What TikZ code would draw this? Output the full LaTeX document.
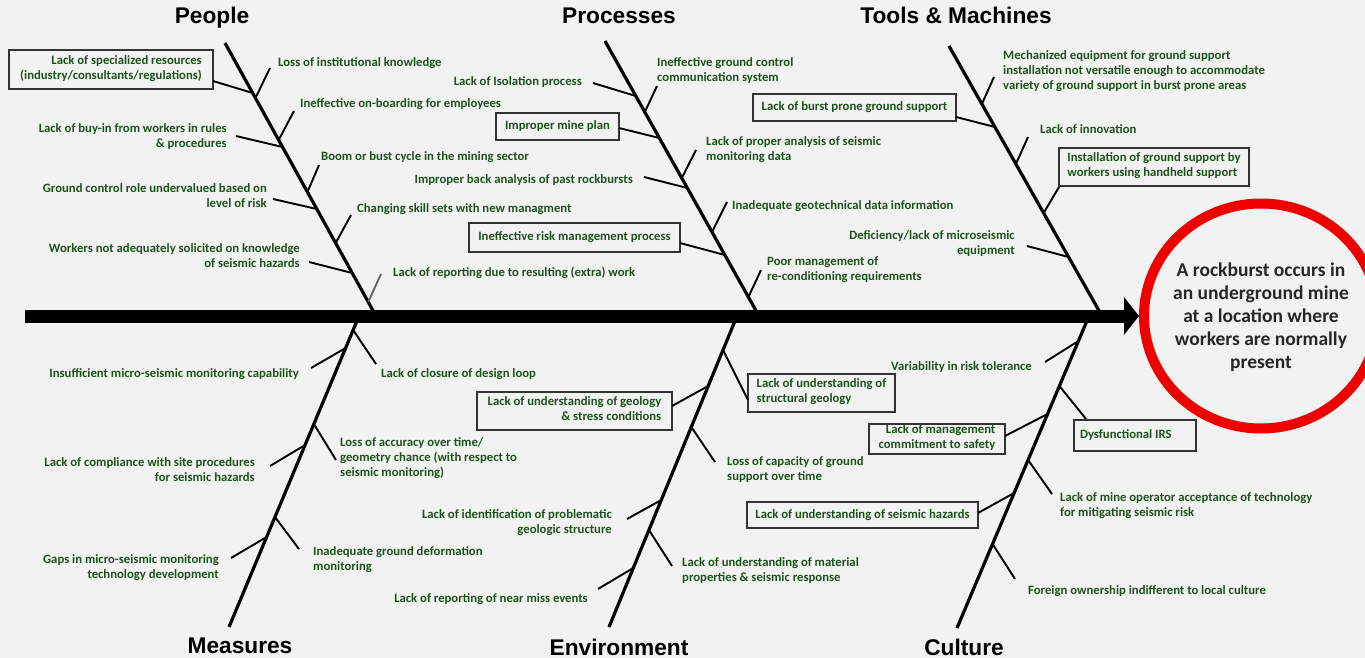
\documentclass[tikz,border=0pt]{standalone}
\usepackage{fontspec}
\setmainfont{Carlito}
\newfontfamily\titlefont{Liberation Sans}
\usetikzlibrary{arrows.meta,shapes.geometric,shadows}
\definecolor{bg}{HTML}{F2F2F2}
\definecolor{lbl}{RGB}{28,82,28}
\definecolor{ring}{RGB}{238,0,0}
\newcommand\lblfont{\bfseries\fontsize{12.7}{15}\selectfont}
\newcommand\mktwig[6][black]{%
  \coordinate (#2q) at (#3,#4);
  \coordinate (#2p) at (intersection of #5t--#5b and 0,#6--1,#6);
  \draw[twigline,draw=#1] (#2q) -- (#2p);}
\begin{document}
\begin{tikzpicture}[x=1pt,y=-1pt,
  lab/.style={inner sep=0pt, text=lbl, font=\lblfont, execute at begin node=\strut, execute at end node=\strut},
  labl/.style={lab, anchor=west, align=left, yshift=-1.5pt},
  labr/.style={lab, anchor=east, align=right, yshift=-1.5pt},
  lbox/.style={lab, align=center, draw=black!80, line width=1.2pt, fill=bg, drop shadow={shadow xshift=1.2pt, shadow yshift=-1.2pt, fill=black!35, opacity=0.6}},
  bone/.style={line width=3.2pt},
  twigline/.style={line width=1.9pt},
  title/.style={font=\titlefont\bfseries\fontsize{22.7}{26}\selectfont, anchor=base},
]
\useasboundingbox (0,0) rectangle (1365,658);
\fill[bg] (0,0) rectangle (1365,658);

% goal
\node[ellipse, draw=ring, line width=10pt, minimum width=234pt, minimum height=225pt, inner sep=0pt] (circ) at (1261,316) {};
\node[align=center, inner sep=0pt, font=\bfseries\fontsize{19.5}{23}\selectfont, text=black!85] (goal) at (1261,317) {A rockburst occurs in\\an underground mine\\at a location where\\workers are normally\\present};
\coordinate (spL) at (25,316);
\draw[line width=13pt, -{Triangle[length=15pt,width=37pt]}] (spL) -- (circ.west);

% People
\node[title] (tP) at (212,24) {People};
\coordinate (Pt) at (225,43); \coordinate (Pb) at (376,316);
\draw[bone] (Pt) -- (Pb);
\node[lbox, minimum width=204pt, minimum height=39pt, align=right] (P1) at (111,69.5) {Lack of specialized resources\\(industry/consultants/regulations)};
\mktwig{P1}{213}{81}{P}{93}
\node[labl] (P2) at (278,62) {Loss of institutional knowledge};
\mktwig{P2}{270}{68}{P}{98}
\node[labl] (P3) at (300,103) {Ineffective on-boarding for employees};
\mktwig{P3}{294}{111}{P}{140}
\node[labr] (P4) at (227,136.5) {Lack of buy-in from workers in rules\\\& procedures};
\mktwig{P4}{236}{136}{P}{147}
\node[labl] (P5) at (321,156) {Boom or bust cycle in the mining sector};
\mktwig{P5}{319}{165}{P}{192}
\node[labr] (P6) at (267,196.5) {Ground control role undervalued based on\\level of risk};
\mktwig{P6}{273}{199}{P}{209}
\node[labl] (P7) at (357,208) {Changing skill sets with new managment};
\mktwig{P7}{351}{215}{P}{243}
\node[labr] (P8) at (300,256.5) {Workers not adequately solicited on knowledge\\of seismic hazards};
\mktwig{P8}{309}{262}{P}{273}
\node[labl] (P9) at (393,272) {Lack of reporting due to resulting (extra) work};
\mktwig[black!60]{P9}{381}{274}{P}{302}

% Processes
\node[title] (tR) at (619,24) {Processes};
\coordinate (Rt) at (605,41); \coordinate (Rb) at (759,316);
\draw[bone] (Rt) -- (Rb);
\node[labr] (R1) at (582,81) {Lack of Isolation process};
\mktwig{R1}{593}{83}{R}{96}
\node[labl] (R2) at (657,70.5) {Ineffective ground control\\communication system};
\mktwig{R2}{657}{86}{R}{112}
\node[lbox, minimum width=123pt, minimum height=27pt] (R3) at (557.5,126.5) {Improper mine plan};
\mktwig{R3}{619}{128}{R}{138}
\node[labl] (R4) at (706,149.5) {Lack of proper analysis of seismic\\monitoring data};
\mktwig{R4}{696}{150}{R}{178}
\node[labr] (R5) at (633,179) {Improper back analysis of past rockbursts};
\mktwig{R5}{644}{177}{R}{188}
\node[labl] (R6) at (732,205) {Inadequate geotechnical data information};
\mktwig{R6}{727}{202}{R}{232}
\node[lbox, minimum width=211pt, minimum height=29pt] (R7) at (574.5,237.5) {Ineffective risk management process};
\mktwig{R7}{680}{243}{R}{255}
\node[labl] (R8) at (767,269.5) {Poor management of\\re-conditioning requirements};
\mktwig{R8}{761}{270}{R}{297}

% Tools & Machines
\node[title] (tT) at (956,24) {Tools \& Machines};
\coordinate (Tt) at (949,46); \coordinate (Tb) at (1102,316);
\draw[bone] (Tt) -- (Tb);
\node[labl] (T1) at (1003,70.5) {Mechanized equipment for ground support\\installation not versatile enough to accommodate\\variety of ground support in burst prone areas};
\mktwig{T1}{994}{77}{T}{104}
\node[lbox, minimum width=203pt, minimum height=27pt] (T2) at (854.5,107.5) {Lack of burst prone ground support};
\mktwig{T2}{956}{117}{T}{127}
\node[labl] (T3) at (1040,129) {Lack of innovation};
\mktwig{T3}{1028}{137}{T}{164}
\node[lbox, minimum width=190pt, minimum height=38pt, align=left] (T4) at (1154,167) {Installation of ground support by\\workers using handheld support};
\mktwig{T4}{1059}{187}{T}{213}
\node[labr] (T5) at (1015,243) {Deficiency/lack of microseismic\\equipment};
\mktwig{T5}{1027}{246}{T}{257}

% Measures
\node[title] (tM) at (240,653) {Measures};
\coordinate (Mt) at (359,316); \coordinate (Mb) at (229,627);
\draw[bone] (Mt) -- (Mb);
\node[labr] (M1) at (299,373) {Insufficient micro-seismic monitoring capability};
\mktwig{M1}{311}{368}{M}{348}
\node[labl] (M2) at (381,373) {Lack of closure of design loop};
\mktwig{M2}{376}{364}{M}{330}
\node[labr] (M3) at (255,470.5) {Lack of compliance with site procedures\\for seismic hazards};
\mktwig{M3}{270}{466}{M}{445}
\node[labl] (M4) at (340,458) {Loss of accuracy over time/\\geometry chance (with respect to\\seismic monitoring)};
\mktwig{M4}{336}{460}{M}{424}
\node[labr] (M5) at (219,567.5) {Gaps in micro-seismic monitoring\\technology development};
\mktwig{M5}{231}{558}{M}{537}
\node[labl] (M6) at (313,559.5) {Inadequate ground deformation\\monitoring};
\mktwig{M6}{299}{549}{M}{517}

% Environment
\node[title] (tE) at (619,655) {Environment};
\coordinate (Et) at (737,316); \coordinate (Eb) at (609,627);
\draw[bone] (Et) -- (Eb);
\node[lbox, minimum width=147pt, minimum height=38pt, align=left] (E1) at (821.5,393) {Lack of understanding of\\structural geology};
\mktwig{E1}{748}{400}{E}{350}
\node[lbox, minimum width=195pt, minimum height=38pt, align=right] (E2) at (574.5,411) {Lack of understanding of geology\\\& stress conditions};
\mktwig{E2}{672}{406}{E}{386}
\node[labl] (E3) at (727,469.5) {Loss of capacity of ground\\support over time};
\mktwig{E3}{715}{462}{E}{427}
\node[labr] (E4) at (612,522.5) {Lack of identification of problematic\\geologic structure};
\mktwig{E4}{627}{519}{E}{500}
\node[labl] (E5) at (682,570.5) {Lack of understanding of material\\properties \& seismic response};
\mktwig{E5}{672}{566}{E}{530}
\node[labr] (E6) at (588,598) {Lack of reporting of near miss events};
\mktwig{E6}{598}{589}{E}{568}

% Culture
\node[title] (tC) at (964,655) {Culture};
\coordinate (Ct) at (1089,316); \coordinate (Cb) at (957,628);
\draw[bone] (Ct) -- (Cb);
\node[labr] (C1) at (1032,366) {Variability in risk tolerance};
\mktwig{C1}{1045}{362}{C}{341}
\node[lbox, minimum width=122pt, minimum height=31pt, text width=110pt, align=flush left] (C2) at (1135,435.5) {Dysfunctional IRS};
\mktwig{C2}{1086}{419}{C}{386}
\node[lbox, minimum width=136pt, minimum height=30pt, align=right] (C3) at (937,439) {Lack of management\\commitment to safety};
\mktwig{C3}{1005}{436}{C}{414}
\node[labl] (C4) at (1060,505.5) {Lack of mine operator acceptance of technology\\for mitigating seismic risk};
\mktwig{C4}{1052}{494}{C}{460}
\node[lbox, minimum width=231pt, minimum height=26pt] (C5) at (862.5,515) {Lack of understanding of seismic hazards};
\mktwig{C5}{978}{513}{C}{493}
\node[labl] (C6) at (1028,590) {Foreign ownership indifferent to local culture};
\mktwig{C6}{1015}{579}{C}{544}
\end{tikzpicture}
\end{document}
